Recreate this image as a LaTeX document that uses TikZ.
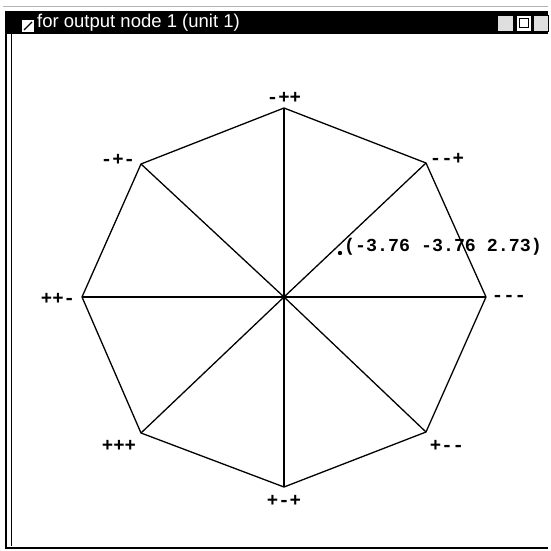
\documentclass[tikz,border=0pt]{standalone}
\usepackage{fontspec}
\setmainfont{Liberation Sans}
\setmonofont{Liberation Mono}
\begin{document}
\begin{tikzpicture}[x=1pt,y=-1pt]
  \tikzset{sg/.style={font=\fontsize{19}{20}\selectfont\ttfamily\bfseries,inner sep=0pt}}
  \tikzset{edge/.style={line width=1.3pt,line join=round}}
  \tikzset{btn/.style={draw=black,fill=gray!25,line width=0.6pt}}
  \useasboundingbox (0,0) rectangle (550,551);
  \fill[white] (0,0) rectangle (550,551);
  % window frame and title bar
  \draw[gray!60,line width=0.6pt] (3,6) -- (548,6);
  \draw[line width=1.5pt] (6,11) -- (6,548) -- (548,548);
  \draw[line width=0.7pt] (11,34) -- (11,546);
  \fill[black] (6,11) rectangle (548,34);
  \fill[white] (22,20) rectangle (34,32);
  \draw[line width=1.2pt] (24,30) -- (32,22);
  \node[anchor=west,text=white,inner sep=0pt,font=\fontsize{18.5}{19}\selectfont] (title) at (37,23) {for output node 1 (unit 1)};
  \draw[btn] (497,15) rectangle (513,31);
  \draw[btn,fill=white] (516,15) rectangle (531,31);
  \draw[line width=1pt] (519,19) rectangle (528,28);
  \draw[btn] (533,15) rectangle (548,31);
  % octagon
  \coordinate (c) at (284,297);
  \coordinate (v0) at (486,297);
  \coordinate (v1) at (426,163);
  \coordinate (v2) at (284,108);
  \coordinate (v3) at (141,164);
  \coordinate (v4) at (82,297);
  \coordinate (v5) at (141,433);
  \coordinate (v6) at (284,487);
  \coordinate (v7) at (426,432);
  \draw[edge] (v0) -- (v1) -- (v2) -- (v3) -- (v4) -- (v5) -- (v6) -- (v7) -- cycle;
  \draw[edge] (c) -- (v0); \draw[edge] (c) -- (v1);
  \draw[edge] (c) -- (v2); \draw[edge] (c) -- (v3);
  \draw[edge] (c) -- (v4); \draw[edge] (c) -- (v5);
  \draw[edge] (c) -- (v6); \draw[edge] (c) -- (v7);
  % corner labels
  \node[sg] (l0) at (509,298) {---};
  \node[sg] (l1) at (447,159) {--+};
  \node[sg] (l2) at (284,98) {-++};
  \node[sg] (l3) at (118,160) {-+-};
  \node[sg] (l4) at (58,299) {++-};
  \node[sg] (l5) at (119,446) {+++};
  \node[sg] (l6) at (284,501) {+-+};
  \node[sg] (l7) at (447,446) {+--};
  % probe point
  \fill (340,253) circle (2.2);
  \node[sg,anchor=west,font=\fontsize{18.3}{19}\selectfont\ttfamily\bfseries] (pt) at (344,247) {(-3.76 -3.76 2.73)};
\end{tikzpicture}
\end{document}
